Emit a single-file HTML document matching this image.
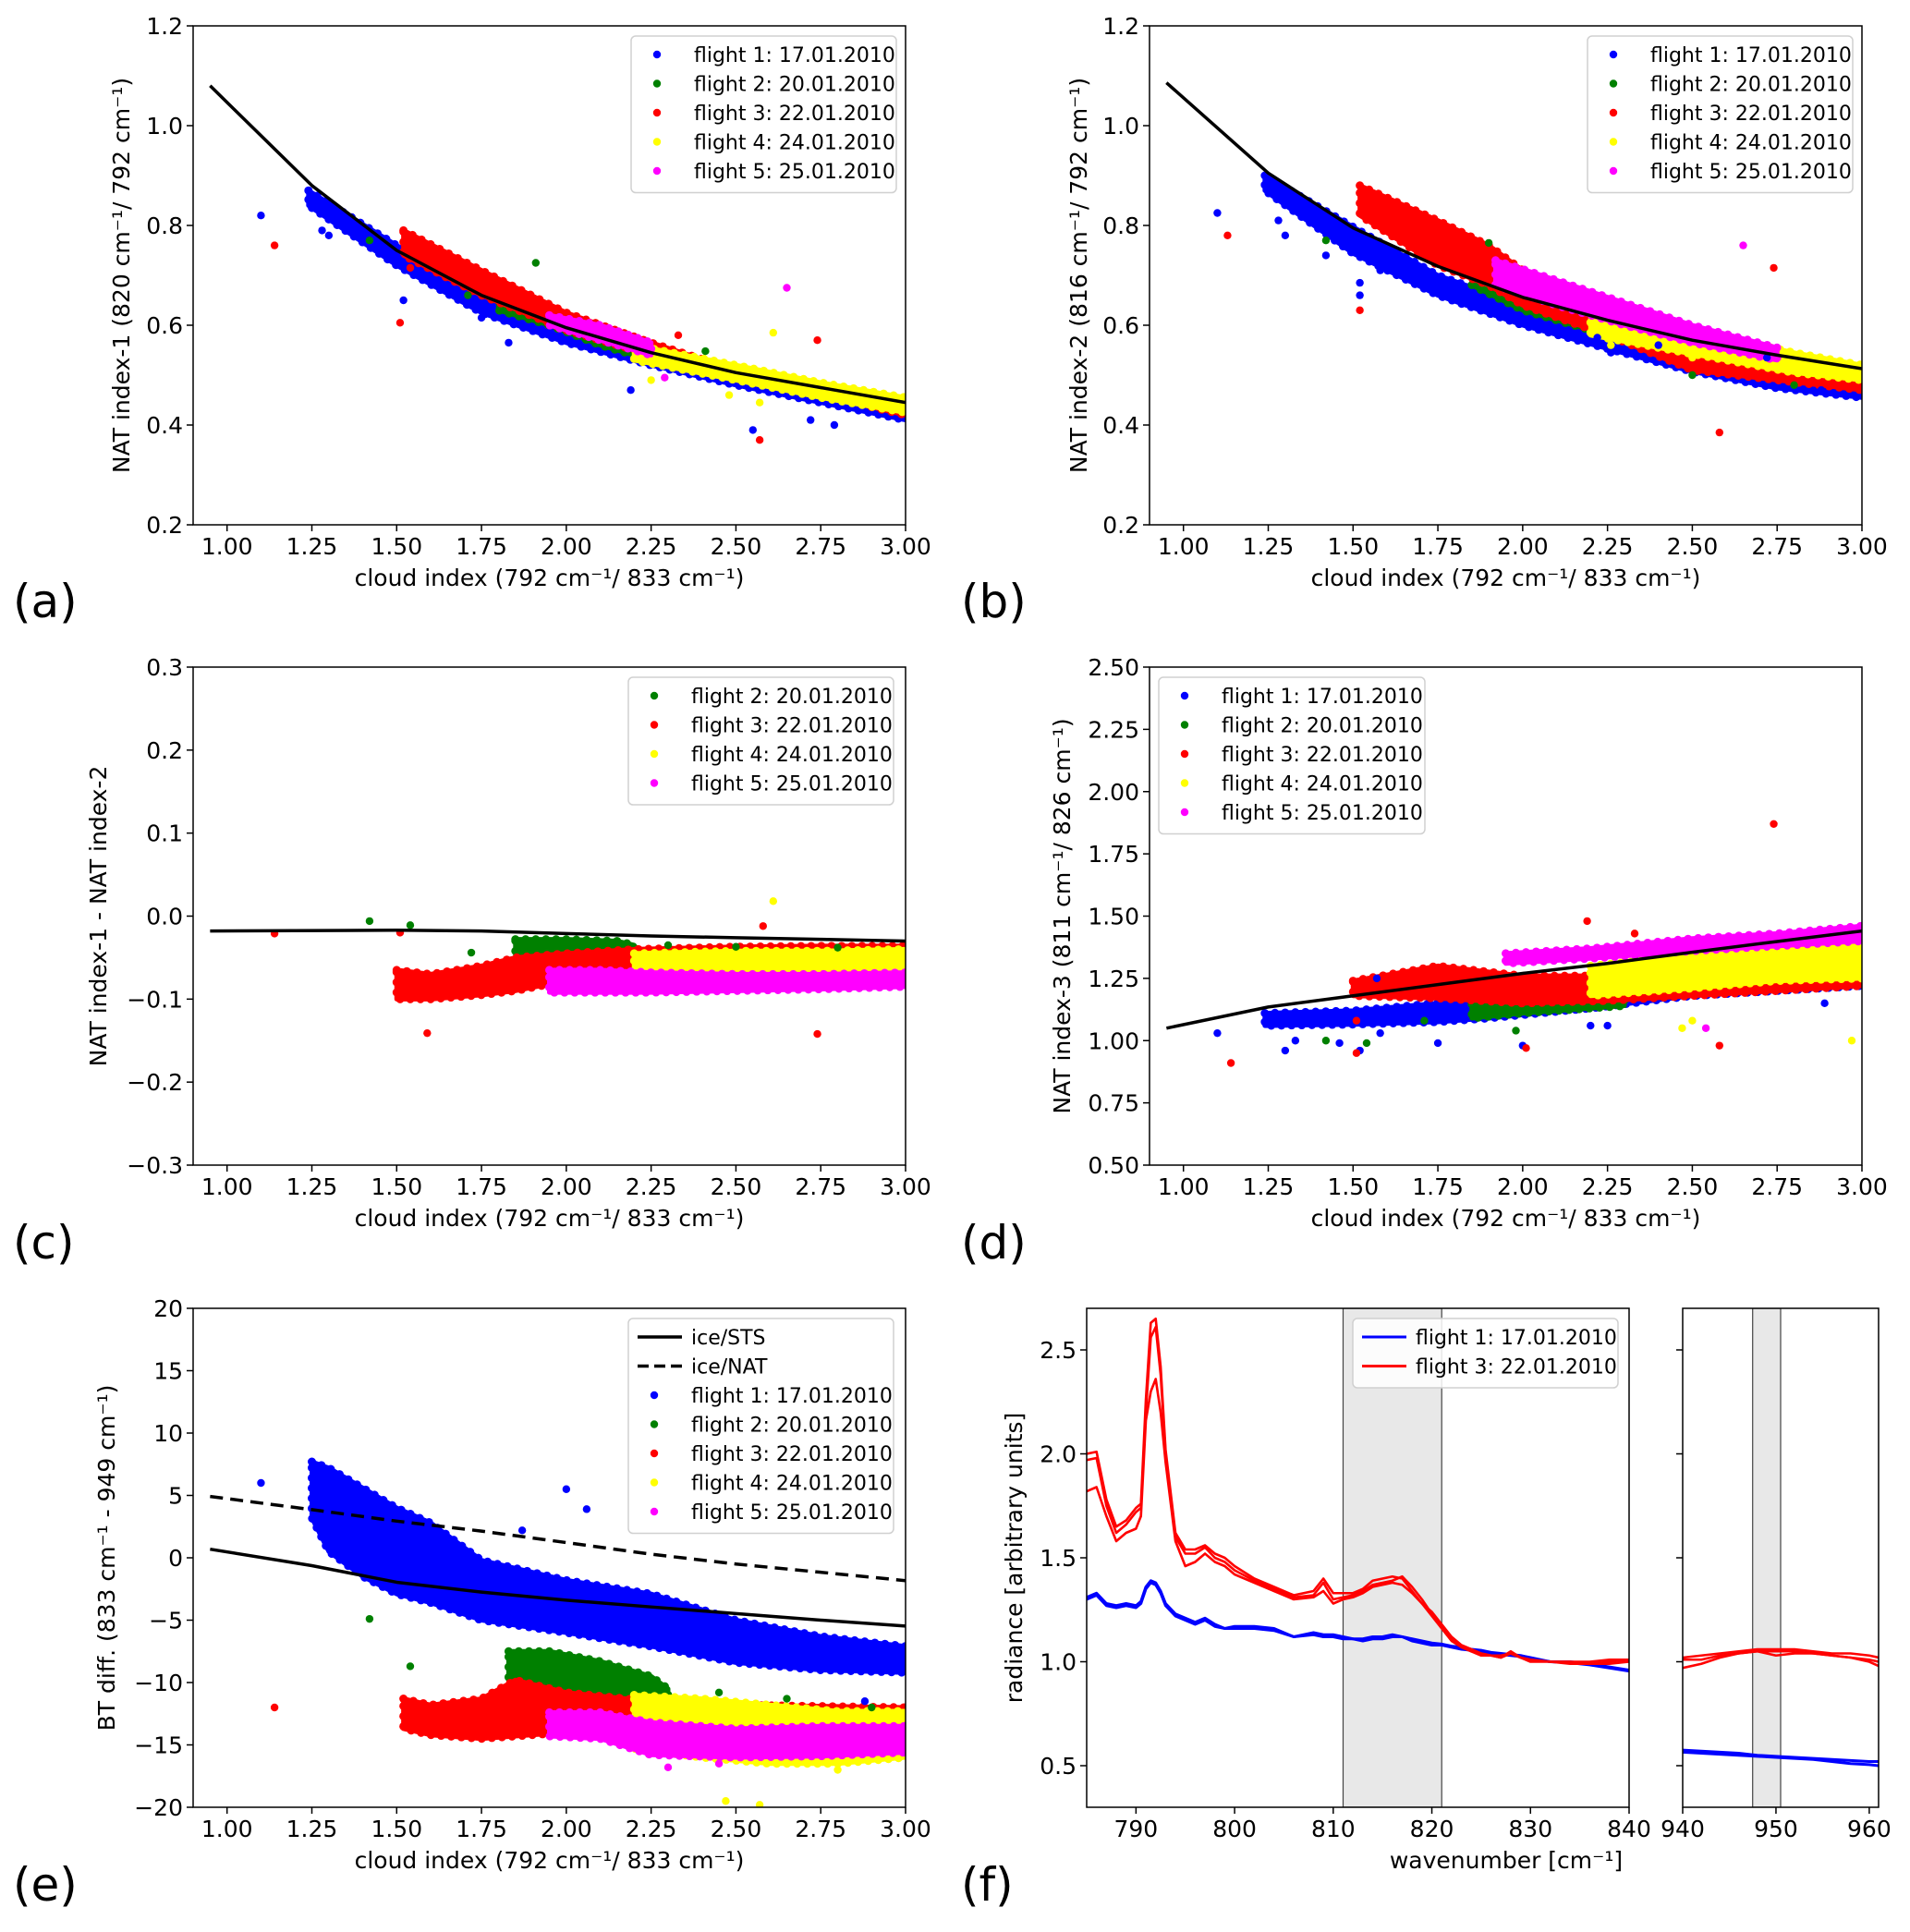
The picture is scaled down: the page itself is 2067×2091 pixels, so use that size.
<!DOCTYPE html>
<html><head><meta charset="utf-8"><style>
html,body{margin:0;padding:0;background:#fff;}
svg{display:block;font-family:"DejaVu Sans","Liberation Sans",sans-serif;}
</style></head><body>
<svg id="fig" width="2067" height="2091" viewBox="0 0 2067 2091" xmlns="http://www.w3.org/2000/svg"></svg>
<script>
// ---------- shared tick data ----------
const cloudTicks=[1.00,1.25,1.50,1.75,2.00,2.25,2.50,2.75,3.00];
const cloudTickLabels=["1.00","1.25","1.50","1.75","2.00","2.25","2.50","2.75","3.00"];
const abTicksY=[0.2,0.4,0.6,0.8,1.0,1.2];
const abTickLabels=["0.2","0.4","0.6","0.8","1.0","1.2"];
const cTicksY=[-0.3,-0.2,-0.1,0.0,0.1,0.2,0.3];
const cTickLabels=["\u22120.3","\u22120.2","\u22120.1","0.0","0.1","0.2","0.3"];
const dTicksY=[0.5,0.75,1.0,1.25,1.5,1.75,2.0,2.25,2.5];
const dTickLabels=["0.50","0.75","1.00","1.25","1.50","1.75","2.00","2.25","2.50"];
const eTicksY=[-20,-15,-10,-5,0,5,10,15,20];
const eTickLabels=["\u221220","\u221215","\u221210","\u22125","0","5","10","15","20"];
const flightNames=["flight 1: 17.01.2010","flight 2: 20.01.2010","flight 3: 22.01.2010","flight 4: 24.01.2010","flight 5: 25.01.2010"];

// ---------- panel a ----------
const aLineX=[0.95,1.25,1.5,1.75,2.0,2.25,2.5,2.75,3.0];
const aLineY=[1.08,0.88,0.75,0.66,0.595,0.545,0.505,0.475,0.445];
const aBlueX=[1.24,1.5,1.75,2.0,2.25,2.5,2.75,3.0];
const aBlueLo=[0.84,0.72,0.625,0.565,0.52,0.48,0.445,0.41];
const aBlueHi=[0.87,0.76,0.665,0.605,0.555,0.51,0.47,0.435];
const aGreenX=[1.8,1.95,2.1,2.25];
const aGreenLo=[0.63,0.6,0.56,0.53];
const aGreenHi=[0.66,0.63,0.59,0.56];
const aRedX=[1.52,1.75,2.0,2.25,2.5,2.75,3.0];
const aRedLo=[0.74,0.66,0.59,0.54,0.49,0.46,0.42];
const aRedHi=[0.79,0.71,0.625,0.565,0.51,0.475,0.44];
const aYellowX=[2.2,2.5,2.75,3.0];
const aYellowLo=[0.53,0.49,0.455,0.425];
const aYellowHi=[0.56,0.52,0.485,0.455];
const aMagentaX=[1.95,2.1,2.25];
const aMagentaLo=[0.6,0.57,0.54];
const aMagentaHi=[0.62,0.6,0.565];
const aBlueOutX=[1.1,1.28,1.3,1.52,1.75,1.83,2.19,2.55,2.72,2.79];
const aBlueOutY=[0.82,0.79,0.78,0.65,0.615,0.565,0.47,0.39,0.41,0.40];
const aGreenOutX=[1.91,1.71,2.41,1.42];
const aGreenOutY=[0.725,0.66,0.548,0.77];
const aRedOutX=[1.14,1.51,1.54,2.33,2.57,2.74];
const aRedOutY=[0.76,0.605,0.715,0.58,0.37,0.57];
const aYellowOutX=[2.61,2.25,2.57,2.48];
const aYellowOutY=[0.585,0.49,0.445,0.46];
const aMagentaOutX=[2.65,2.29];
const aMagentaOutY=[0.675,0.495];

// ---------- panel b ----------
const bLineX=[0.95,1.25,1.5,1.75,2.0,2.25,2.5,2.75,3.0];
const bLineY=[1.086,0.905,0.795,0.718,0.656,0.61,0.57,0.54,0.513];
const bBlueX=[1.24,1.5,1.75,2.0,2.25,2.5,2.75,3.0];
const bBlueLo=[0.87,0.744,0.66,0.60,0.553,0.507,0.474,0.455];
const bBlueHi=[0.9,0.797,0.70,0.64,0.58,0.54,0.507,0.488];
const bGreenX=[1.85,2.0,2.25];
const bGreenLo=[0.68,0.63,0.58];
const bGreenHi=[0.71,0.67,0.61];
const bRedX=[1.52,1.75,1.9,2.0,2.25,2.5,2.75,3.0];
const bRedLo=[0.82,0.72,0.68,0.64,0.58,0.51,0.49,0.47];
const bRedHi=[0.88,0.81,0.76,0.71,0.61,0.54,0.53,0.49];
const bYellowX=[2.2,2.4,2.6,2.8,3.0];
const bYellowLo=[0.58,0.555,0.53,0.505,0.49];
const bYellowHi=[0.625,0.6,0.575,0.545,0.52];
const bMagentaX=[1.92,2.1,2.3,2.5,2.75];
const bMagentaLo=[0.68,0.64,0.6,0.565,0.53];
const bMagentaHi=[0.73,0.69,0.645,0.6,0.555];
const bBlueOutX=[1.1,1.28,1.3,1.42,1.52,1.52,1.58,1.88,2.22,2.26,2.4,2.72,2.88];
const bBlueOutY=[0.825,0.81,0.78,0.74,0.685,0.66,0.71,0.63,0.575,0.545,0.56,0.535,0.47];
const bGreenOutX=[1.42,1.9,2.5,2.8];
const bGreenOutY=[0.77,0.765,0.5,0.48];
const bRedOutX=[1.13,1.52,2.58,2.74];
const bRedOutY=[0.78,0.63,0.385,0.715];
const bYellowOutX=[2.26,2.5];
const bYellowOutY=[0.56,0.535];
const bMagentaOutX=[2.65];
const bMagentaOutY=[0.76];

// ---------- panel c ----------
const cLineX=[0.95,1.5,1.75,2.0,2.25,2.5,2.75,3.0];
const cLineY=[-0.018,-0.017,-0.018,-0.021,-0.024,-0.026,-0.028,-0.030];
const cGreenX=[1.85,2.0,2.15,2.2];
const cGreenLo=[-0.058,-0.058,-0.055,-0.05];
const cGreenHi=[-0.028,-0.028,-0.03,-0.035];
const cRedX=[1.5,1.6,1.75,1.85,2.0,2.2,2.5,2.75,3.0];
const cRedLo=[-0.1,-0.1,-0.095,-0.09,-0.078,-0.072,-0.062,-0.06,-0.058];
const cRedHi=[-0.065,-0.07,-0.06,-0.05,-0.045,-0.04,-0.037,-0.036,-0.036];
const cYellowX=[2.2,2.5,2.75,3.0];
const cYellowLo=[-0.078,-0.078,-0.075,-0.072];
const cYellowHi=[-0.045,-0.042,-0.042,-0.04];
const cMagentaX=[1.95,2.1,2.25,2.5,2.75,3.0];
const cMagentaLo=[-0.092,-0.092,-0.092,-0.09,-0.088,-0.085];
const cMagentaHi=[-0.065,-0.065,-0.068,-0.07,-0.07,-0.068];
const cGreenOutX=[1.42,1.54,1.72,2.3,2.5,2.8];
const cGreenOutY=[-0.006,-0.011,-0.044,-0.035,-0.037,-0.038];
const cRedOutX=[1.14,1.51,1.59,2.58,2.74];
const cRedOutY=[-0.021,-0.02,-0.141,-0.012,-0.142];
const cYellowOutX=[2.61];
const cYellowOutY=[0.018];

// ---------- panel d ----------
const dLineX=[0.95,1.25,1.5,1.75,2.0,2.25,2.5,2.75,3.0];
const dLineY=[1.05,1.135,1.18,1.225,1.27,1.31,1.355,1.398,1.44];
const dBlueX=[1.24,1.5,1.75,1.9,2.2,2.5,2.75,3.0];
const dBlueLo=[1.06,1.065,1.075,1.09,1.13,1.18,1.2,1.22];
const dBlueHi=[1.11,1.12,1.15,1.17,1.2,1.25,1.3,1.33];
const dGreenX=[1.85,2.0,2.2,2.3];
const dGreenLo=[1.09,1.11,1.13,1.14];
const dGreenHi=[1.15,1.17,1.19,1.2];
const dRedX=[1.5,1.75,2.0,2.25,2.5,2.75,3.0];
const dRedLo=[1.18,1.17,1.15,1.16,1.18,1.2,1.22];
const dRedHi=[1.24,1.3,1.26,1.26,1.27,1.27,1.27];
const dYellowX=[2.2,2.5,2.75,3.0];
const dYellowLo=[1.18,1.21,1.24,1.25];
const dYellowHi=[1.3,1.34,1.37,1.38];
const dMagentaX=[1.95,2.2,2.5,2.75,3.0];
const dMagentaLo=[1.31,1.33,1.36,1.38,1.4];
const dMagentaHi=[1.35,1.37,1.41,1.43,1.46];
const dBlueOutX=[1.1,1.3,1.33,1.46,1.52,1.58,1.75,2.0,2.25,1.57,2.89,2.2];
const dBlueOutY=[1.03,0.96,1.0,0.99,0.96,1.03,0.99,0.98,1.06,1.25,1.15,1.06];
const dGreenOutX=[1.42,1.54,1.71,1.98];
const dGreenOutY=[1.0,0.99,1.08,1.04];
const dRedOutX=[2.74,2.19,2.33,1.14,1.51,2.01,2.58,1.51];
const dRedOutY=[1.87,1.48,1.43,0.91,0.95,0.97,0.98,1.08];
const dYellowOutX=[2.97,2.5,2.47];
const dYellowOutY=[1.0,1.08,1.05];
const dMagentaOutX=[2.54];
const dMagentaOutY=[1.05];

// ---------- panel e ----------
const eStsX=[0.95,1.25,1.5,1.75,2.0,2.25,2.5,2.75,3.0];
const eStsY=[0.69,-0.63,-1.96,-2.75,-3.4,-3.94,-4.47,-5.0,-5.47];
const eNatX=[0.95,1.25,1.5,1.75,2.0,2.25,2.5,2.75,3.0];
const eNatY=[4.92,3.86,2.94,2.14,1.22,0.29,-0.5,-1.16,-1.83];
const eBlueX=[1.25,1.3,1.4,1.5,1.6,1.75,2.0,2.25,2.5,2.75,3.0];
const eBlueLo=[3.2,0.5,-1.5,-2.9,-3.6,-5.0,-6.0,-7.1,-8.4,-9.0,-9.2];
const eBlueHi=[7.7,7.2,5.6,4.0,2.8,-0.2,-1.8,-2.9,-5.0,-6.3,-7.1];
const eGreenX=[1.83,1.95,2.1,2.25,2.3];
const eGreenLo=[-10.5,-11.3,-11.5,-11.2,-11.0];
const eGreenHi=[-7.5,-7.5,-8.3,-9.5,-10.5];
const eRedX=[1.52,1.6,1.75,1.85,2.0,2.25,2.5,2.75,3.0];
const eRedLo=[-13.7,-14.2,-14.5,-14.3,-14.0,-13.8,-13.9,-13.8,-13.7];
const eRedHi=[-11.3,-11.8,-11.3,-9.8,-10.8,-11.5,-11.8,-11.9,-12];
const eYellowX=[2.2,2.4,2.6,2.8,3.0];
const eYellowLo=[-15.3,-16.0,-16.5,-16.5,-16.0];
const eYellowHi=[-11.0,-11.3,-11.8,-12.3,-12.3];
const eMagentaX=[1.95,2.1,2.25,2.5,2.75,3.0];
const eMagentaLo=[-14.3,-14.5,-15.8,-16.0,-15.9,-15.6];
const eMagentaHi=[-12.4,-12.4,-13.2,-13.7,-13.5,-13.5];
const eBlueOutX=[1.1,2.0,2.06,1.87,2.88];
const eBlueOutY=[6.0,5.5,3.9,2.2,-11.5];
const eGreenOutX=[1.42,1.54,2.65,2.9,2.45];
const eGreenOutY=[-4.9,-8.7,-11.3,-12.0,-10.8];
const eRedOutX=[1.14];
const eRedOutY=[-12.0];
const eYellowOutX=[2.47,2.57,2.8];
const eYellowOutY=[-19.5,-19.8,-17.0];
const eMagentaOutX=[2.3,2.45];
const eMagentaOutY=[-16.8,-16.5];

// ---------- panel f ----------
const fTicksX=[790,800,810,820,830,840];
const fTicksXInset=[940,950,960];
const fTicksY=[0.5,1.0,1.5,2.0,2.5];
const fTickLabelsY=["0.5","1.0","1.5","2.0","2.5"];
const fShadeMain=[811,821];
const fShadeInset=[947.5,950.5];
const fWn=[785,786,787,788,789,790,790.5,791,791.5,792,792.5,793,794,795,796,797,798,799,800,802,804,806,808,809,810,811,812,813,814,815,816,817,818,819,820,821,822,823,824,825,826,827,828,829,830,832,834,836,838,840];
const fRed1=[2.0,2.01,1.78,1.65,1.68,1.74,1.76,2.26,2.63,2.65,2.42,2.02,1.62,1.54,1.54,1.56,1.52,1.5,1.46,1.40,1.36,1.32,1.34,1.40,1.33,1.33,1.33,1.35,1.39,1.40,1.41,1.40,1.34,1.28,1.24,1.18,1.12,1.08,1.06,1.04,1.03,1.02,1.05,1.02,1.01,1.0,1.0,1.0,1.01,1.01];
const fRed2=[1.82,1.84,1.70,1.58,1.62,1.64,1.70,2.16,2.30,2.36,2.20,1.96,1.58,1.46,1.48,1.52,1.48,1.46,1.42,1.38,1.34,1.30,1.31,1.34,1.28,1.30,1.31,1.33,1.36,1.37,1.38,1.37,1.33,1.28,1.22,1.16,1.10,1.07,1.05,1.04,1.03,1.03,1.04,1.02,1.01,1.0,0.99,0.99,0.99,1.0];
const fRed3=[1.97,1.98,1.75,1.62,1.66,1.72,1.74,2.2,2.56,2.61,2.38,2.0,1.6,1.52,1.52,1.55,1.5,1.48,1.44,1.39,1.35,1.31,1.32,1.38,1.30,1.31,1.32,1.34,1.37,1.38,1.39,1.41,1.36,1.30,1.23,1.17,1.11,1.07,1.05,1.03,1.03,1.02,1.04,1.02,1.0,1.0,1.0,0.99,1.0,1.01];
const fBlue1=[1.31,1.33,1.28,1.27,1.28,1.27,1.29,1.36,1.39,1.38,1.34,1.28,1.23,1.21,1.19,1.21,1.18,1.16,1.17,1.17,1.16,1.12,1.14,1.13,1.13,1.12,1.11,1.11,1.12,1.12,1.13,1.12,1.11,1.10,1.09,1.085,1.075,1.07,1.06,1.055,1.045,1.04,1.035,1.03,1.02,1.0,1.0,0.99,0.975,0.96];
const fBlue2=[1.30,1.32,1.27,1.26,1.27,1.26,1.28,1.35,1.38,1.37,1.33,1.27,1.22,1.20,1.18,1.20,1.17,1.16,1.16,1.16,1.15,1.12,1.13,1.12,1.12,1.11,1.11,1.10,1.11,1.11,1.12,1.12,1.10,1.09,1.08,1.08,1.07,1.06,1.055,1.05,1.04,1.035,1.03,1.025,1.015,1.0,0.995,0.985,0.97,0.955];
const fWnInset=[940,942,944,946,948,950,952,954,956,958,960,961];
const fRedInset1=[1.02,1.03,1.04,1.05,1.06,1.06,1.06,1.05,1.04,1.04,1.03,1.02];
const fRedInset2=[0.97,0.99,1.02,1.04,1.05,1.03,1.04,1.04,1.03,1.02,1.01,1.0];
const fRedInset3=[1.01,1.01,1.03,1.04,1.05,1.05,1.05,1.04,1.03,1.02,1.0,0.98];
const fBlueInset1=[0.575,0.57,0.565,0.56,0.55,0.545,0.54,0.535,0.53,0.525,0.52,0.52];
const fBlueInset2=[0.565,0.56,0.555,0.55,0.545,0.54,0.535,0.53,0.52,0.51,0.505,0.5];

// ---------- drawing helpers ----------
const NS='http://www.w3.org/2000/svg';
const svg=document.getElementById('fig');
const COLORS=['#0000ff','#008000','#ff0000','#ffff00','#ff00ff'];
function mk(tag,attrs,parent){const e=document.createElementNS(NS,tag);for(const k in attrs)e.setAttribute(k,attrs[k]);(parent||svg).appendChild(e);return e;}
function linScale(d0,d1,r0,r1){return v=>r0+(v-d0)/(d1-d0)*(r1-r0);}
let clipId=0;

function axes(box,xd,yd,name){
  const g=mk('g',{});
  
  
  const sx=linScale(xd[0],xd[1],box.l,box.r), sy=linScale(yd[0],yd[1],box.b,box.t);
  const id='clip'+(clipId++);
  const cp=mk('clipPath',{id:id},g);
  mk('rect',{x:box.l,y:box.t,width:box.r-box.l,height:box.b-box.t},cp);
  const plot=mk('g',{'clip-path':'url(#'+id+')'},g);
  
  
  return {g,plot,sx,sy,box};
}
function frame(A){
  const r=mk('rect',{x:A.box.l,y:A.box.t,width:A.box.r-A.box.l,height:A.box.b-A.box.t,fill:'none',stroke:'#000','stroke-width':1.5},A.g);
  
  
}
function xTicks(A,vals,labels){
  vals.forEach((v,i)=>{
    const x=A.sx(v);
    const t=mk('line',{x1:x,x2:x,y1:A.box.b,y2:A.box.b+7,stroke:'#000','stroke-width':1.5},A.g);
    
    
    if(labels){
      const tx=mk('text',{x:x,y:A.box.b+32,'text-anchor':'middle','font-size':25},A.g);
      
      
      tx.textContent=labels[i];
    }
  });
}
function yTicks(A,vals,labels){
  vals.forEach((v,i)=>{
    const y=A.sy(v);
    const t=mk('line',{x1:A.box.l-7,x2:A.box.l,y1:y,y2:y,stroke:'#000','stroke-width':1.5},A.g);
    
    
    if(labels){
      const tx=mk('text',{x:A.box.l-11,y:y+9,'text-anchor':'end','font-size':25},A.g);
      
      
      tx.textContent=labels[i];
    }
  });
}
function xLabel(A,txt,cx){
  const t=mk('text',{x:cx!==undefined?cx:(A.box.l+A.box.r)/2,y:A.box.b+66,'text-anchor':'middle','font-size':25},A.g);
  
  
  t.textContent=txt;
}
function yLabel(A,txt,x){
  const cy=(A.box.t+A.box.b)/2;
  const t=mk('text',{x:x,y:cy,'text-anchor':'middle','font-size':25,transform:'rotate(-90 '+x+' '+cy+')'},A.g);
  
  
  t.textContent=txt;
}
function panelLetter(txt,x,y){
  const t=mk('text',{x:x,y:y,'font-size':50});
  
  
  t.textContent=txt;
}
function band(A,xs,lo,hi,color,name){
  if(!xs)return;
  const pts=[];
  xs.forEach((x,i)=>pts.push(A.sx(x)+','+A.sy(hi[i])));
  for(let i=xs.length-1;i>=0;i--)pts.push(A.sx(xs[i])+','+A.sy(lo[i]));
  const p=mk('polygon',{points:pts.join(' '),fill:color,stroke:color,'stroke-width':5,'stroke-linejoin':'round'},A.plot);
  
  
  const e=mk('polygon',{points:pts.join(' '),fill:'none',stroke:color,'stroke-width':9,'stroke-linecap':'round','stroke-dasharray':'0 11'},A.plot);
  
  
}
function dots(A,xs,ys,color,name){
  if(!xs)return;
  xs.forEach((x,i)=>{
    const c=mk('circle',{cx:A.sx(x),cy:A.sy(ys[i]),r:4.2,fill:color},A.plot);
    
    
  });
}
function curve(A,xs,ys,color,w,dash,name){
  const d=xs.map((x,i)=>(i?'L':'M')+A.sx(x).toFixed(2)+' '+A.sy(ys[i]).toFixed(2)).join(' ');
  const attrs={d:d,fill:'none',stroke:color,'stroke-width':w,'stroke-linejoin':'round'};
  if(dash)attrs['stroke-dasharray']=dash;
  const p=mk('path',attrs,A.plot);
  
  
}
function legend(x,y,w,entries,rowH){
  const g=mk('g',{});
  
  
  const r=mk('rect',{x:x,y:y,width:w,height:rowH*entries.length+12,rx:5,fill:'#fff','fill-opacity':0.85,stroke:'#d0d0d0','stroke-width':1.5},g);
  
  
  entries.forEach((e,i)=>{
    const cy=y+20+i*rowH;
    const eg=mk('g',{},g);
    
    
    if(e.type==='dot'){
      mk('circle',{cx:x+28,cy:cy,r:4.2,fill:e.color},eg);
    }else{
      const a={x1:x+10,x2:x+58,y1:cy,y2:cy,stroke:e.color,'stroke-width':e.w||3.5};
      if(e.dash)a['stroke-dasharray']=e.dash;
      mk('line',a,eg);
    }
    const t=mk('text',{x:x+68,y:cy+8,'font-size':22},eg);
    t.textContent=e.label;
  });
}
function scatterPanel(A,p,flights){
  const nm=['Blue','Green','Red','Yellow','Magenta'];
  flights.forEach(k=>{
    const n=nm[k];
    band(A,window[p+n+'X'],window[p+n+'Lo'],window[p+n+'Hi'],COLORS[k],'flight-'+(k+1)+'-cloud');
  });
  flights.forEach(k=>{
    const n=nm[k];
    dots(A,window[p+n+'OutX'],window[p+n+'OutY'],COLORS[k],'flight-'+(k+1)+'-point');
  });
}
const DATA={aBlueX,aBlueLo,aBlueHi,aGreenX,aGreenLo,aGreenHi,aRedX,aRedLo,aRedHi,aYellowX,aYellowLo,aYellowHi,aMagentaX,aMagentaLo,aMagentaHi,aBlueOutX,aBlueOutY,aGreenOutX,aGreenOutY,aRedOutX,aRedOutY,aYellowOutX,aYellowOutY,aMagentaOutX,aMagentaOutY,
bBlueX,bBlueLo,bBlueHi,bGreenX,bGreenLo,bGreenHi,bRedX,bRedLo,bRedHi,bYellowX,bYellowLo,bYellowHi,bMagentaX,bMagentaLo,bMagentaHi,bBlueOutX,bBlueOutY,bGreenOutX,bGreenOutY,bRedOutX,bRedOutY,bYellowOutX,bYellowOutY,bMagentaOutX,bMagentaOutY,
cGreenX,cGreenLo,cGreenHi,cRedX,cRedLo,cRedHi,cYellowX,cYellowLo,cYellowHi,cMagentaX,cMagentaLo,cMagentaHi,cGreenOutX,cGreenOutY,cRedOutX,cRedOutY,cYellowOutX,cYellowOutY,
dBlueX,dBlueLo,dBlueHi,dGreenX,dGreenLo,dGreenHi,dRedX,dRedLo,dRedHi,dYellowX,dYellowLo,dYellowHi,dMagentaX,dMagentaLo,dMagentaHi,dBlueOutX,dBlueOutY,dGreenOutX,dGreenOutY,dRedOutX,dRedOutY,dYellowOutX,dYellowOutY,dMagentaOutX,dMagentaOutY,
eBlueX,eBlueLo,eBlueHi,eGreenX,eGreenLo,eGreenHi,eRedX,eRedLo,eRedHi,eYellowX,eYellowLo,eYellowHi,eMagentaX,eMagentaLo,eMagentaHi,eBlueOutX,eBlueOutY,eGreenOutX,eGreenOutY,eRedOutX,eRedOutY,eYellowOutX,eYellowOutY,eMagentaOutX,eMagentaOutY};
Object.assign(window,DATA);

const L={l:209,r:980}, R={l:1244,r:2015};
const ROW=[{t:28,b:568},{t:722,b:1261},{t:1416,b:1956}];
const CLOUD="cloud index (792 cm\u207B\u00B9/ 833 cm\u207B\u00B9)";
const dotEntries=ks=>ks.map(k=>({type:'dot',color:COLORS[k],label:flightNames[k]}));

// panel a
let A=axes({l:L.l,r:L.r,t:ROW[0].t,b:ROW[0].b},[0.9,3.0],[0.2,1.2],'panel-a');
scatterPanel(A,'a',[0,1,2,3,4]);
curve(A,aLineX,aLineY,'#000',3.5,null,'model-curve');
frame(A);xTicks(A,cloudTicks,cloudTickLabels);yTicks(A,abTicksY,abTickLabels);
xLabel(A,CLOUD);yLabel(A,"NAT index-1 (820 cm\u207B\u00B9/ 792 cm\u207B\u00B9)",140);
legend(683,39,287,dotEntries([0,1,2,3,4]),31.5);
panelLetter('(a)',14,668);

// panel b
A=axes({l:R.l,r:R.r,t:ROW[0].t,b:ROW[0].b},[0.9,3.0],[0.2,1.2],'panel-b');
scatterPanel(A,'b',[0,1,2,3,4]);
curve(A,bLineX,bLineY,'#000',3.5,null,'model-curve');
frame(A);xTicks(A,cloudTicks,cloudTickLabels);yTicks(A,abTicksY,abTickLabels);
xLabel(A,CLOUD);yLabel(A,"NAT index-2 (816 cm\u207B\u00B9/ 792 cm\u207B\u00B9)",1176);
legend(1718,39,287,dotEntries([0,1,2,3,4]),31.5);
panelLetter('(b)',1040,668);

// panel c
A=axes({l:L.l,r:L.r,t:ROW[1].t,b:ROW[1].b},[0.9,3.0],[-0.3,0.3],'panel-c');
scatterPanel(A,'c',[1,2,3,4]);
curve(A,cLineX,cLineY,'#000',3.5,null,'model-curve');
frame(A);xTicks(A,cloudTicks,cloudTickLabels);yTicks(A,cTicksY,cTickLabels);
xLabel(A,CLOUD);yLabel(A,"NAT index-1 - NAT index-2",115);
legend(680,733,287,dotEntries([1,2,3,4]),31.5);
panelLetter('(c)',14,1362);

// panel d
A=axes({l:R.l,r:R.r,t:ROW[1].t,b:ROW[1].b},[0.9,3.0],[0.5,2.5],'panel-d');
scatterPanel(A,'d',[0,1,2,3,4]);
curve(A,dLineX,dLineY,'#000',3.5,null,'model-curve');
frame(A);xTicks(A,cloudTicks,cloudTickLabels);yTicks(A,dTicksY,dTickLabels);
xLabel(A,CLOUD);yLabel(A,"NAT index-3 (811 cm\u207B\u00B9/ 826 cm\u207B\u00B9)",1158);
legend(1254,733,288,dotEntries([0,1,2,3,4]),31.5);
panelLetter('(d)',1040,1362);

// panel e
A=axes({l:L.l,r:L.r,t:ROW[2].t,b:ROW[2].b},[0.9,3.0],[-20,20],'panel-e');
scatterPanel(A,'e',[0,1,2,3,4]);
curve(A,eStsX,eStsY,'#000',3.5,null,'ice-sts-curve');
curve(A,eNatX,eNatY,'#000',3.5,'14 8','ice-nat-curve');
frame(A);xTicks(A,cloudTicks,cloudTickLabels);yTicks(A,eTicksY,eTickLabels);
xLabel(A,CLOUD);yLabel(A,"BT diff. (833 cm\u207B\u00B9 - 949 cm\u207B\u00B9)",124);
legend(680,1427,287,[{type:'line',color:'#000',label:'ice/STS'},{type:'line',color:'#000',label:'ice/NAT',dash:'12 6'}].concat(dotEntries([0,1,2,3,4])),31.5);
panelLetter('(e)',14,2057);

// panel f main
A=axes({l:1176,r:1763,t:ROW[2].t,b:ROW[2].b},[785,840],[0.3,2.7],'panel-f-main');
let sh=mk('rect',{x:A.sx(fShadeMain[0]),y:A.box.t,width:A.sx(fShadeMain[1])-A.sx(fShadeMain[0]),height:A.box.b-A.box.t,fill:'#e8e8e8',stroke:'#444','stroke-width':1.2},A.plot);


curve(A,fWn,fBlue1,'#0000ff',3,null,'flight-1-spectrum');
curve(A,fWn,fBlue2,'#0000ff',3,null,'flight-1-spectrum');
curve(A,fWn,fRed1,'#ff0000',2.6,null,'flight-3-spectrum');
curve(A,fWn,fRed2,'#ff0000',2.6,null,'flight-3-spectrum');
curve(A,fWn,fRed3,'#ff0000',2.6,null,'flight-3-spectrum');
frame(A);xTicks(A,fTicksX,fTicksX.map(String));yTicks(A,fTicksY,fTickLabelsY);
yLabel(A,"radiance [arbitrary units]",1106);
let xl=mk('text',{x:1630,y:A.box.b+66,'text-anchor':'middle','font-size':25});


xl.textContent="wavenumber [cm\u207B\u00B9]";
legend(1464,1427,287,[{type:'line',color:'#0000ff',label:flightNames[0],w:3},{type:'line',color:'#ff0000',label:flightNames[2],w:3}],31.5);
panelLetter('(f)',1040,2057);

// panel f inset
A=axes({l:1821,r:2033,t:ROW[2].t,b:ROW[2].b},[940,961],[0.3,2.7],'panel-f-inset');
sh=mk('rect',{x:A.sx(fShadeInset[0]),y:A.box.t,width:A.sx(fShadeInset[1])-A.sx(fShadeInset[0]),height:A.box.b-A.box.t,fill:'#e8e8e8',stroke:'#444','stroke-width':1.2},A.plot);


curve(A,fWnInset,fBlueInset1,'#0000ff',3,null,'flight-1-spectrum');
curve(A,fWnInset,fBlueInset2,'#0000ff',3,null,'flight-1-spectrum');
curve(A,fWnInset,fRedInset1,'#ff0000',2.6,null,'flight-3-spectrum');
curve(A,fWnInset,fRedInset2,'#ff0000',2.6,null,'flight-3-spectrum');
curve(A,fWnInset,fRedInset3,'#ff0000',2.6,null,'flight-3-spectrum');
frame(A);xTicks(A,fTicksXInset,fTicksXInset.map(String));yTicks(A,fTicksY,null);
</script>
</body></html>
